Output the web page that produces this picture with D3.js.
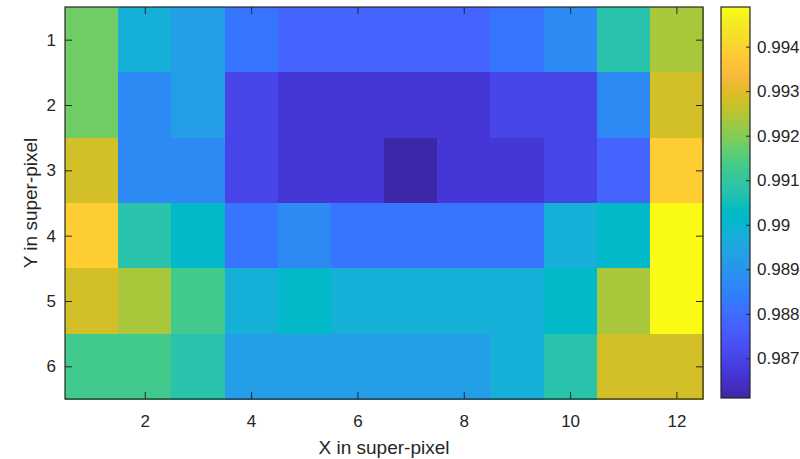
<!DOCTYPE html>
<html>
<head>
<meta charset="utf-8">
<script src="https://cdn.jsdelivr.net/npm/d3@7"></script>
<style>
  html, body { margin: 0; padding: 0; background: #fff; }
  svg { display: block; font-family: "Liberation Sans", Arial, sans-serif; }
</style>
</head>
<body>
<svg id="chart" width="800" height="459"></svg>
<script>
// Super-pixel grid: 6 rows (Y) x 12 columns (X)
const xCategories = [1, 2, 3, 4, 5, 6, 7, 8, 9, 10, 11, 12];
const yCategories = [1, 2, 3, 4, 5, 6];

const row1 = [0.99180, 0.98981, 0.98925, 0.98820, 0.98778, 0.98778, 0.98778, 0.98778, 0.98820, 0.98871, 0.99078, 0.99236];
const row2 = [0.99180, 0.98871, 0.98925, 0.98702, 0.98667, 0.98667, 0.98667, 0.98667, 0.98702, 0.98702, 0.98871, 0.99282];
const row3 = [0.99282, 0.98871, 0.98871, 0.98702, 0.98667, 0.98667, 0.98611, 0.98667, 0.98667, 0.98702, 0.98778, 0.99387];
const row4 = [0.99387, 0.99078, 0.99020, 0.98820, 0.98871, 0.98820, 0.98820, 0.98820, 0.98820, 0.98981, 0.99020, 0.99489];
const row5 = [0.99282, 0.99236, 0.99130, 0.98981, 0.99020, 0.98981, 0.98981, 0.98981, 0.98981, 0.99020, 0.99236, 0.99489];
const row6 = [0.99130, 0.99130, 0.99078, 0.98925, 0.98925, 0.98925, 0.98925, 0.98925, 0.98981, 0.99078, 0.99282, 0.99282];
const rows = [row1, row2, row3, row4, row5, row6];

const xTicks = [2, 4, 6, 8, 10, 12];
const yTicks = [1, 2, 3, 4, 5, 6];
const colorTicks = [0.987, 0.988, 0.989, 0.990, 0.991, 0.992, 0.993, 0.994];

// Parula colormap anchor colours
const parula = [
  [0.2422,0.1504,0.6603],[0.2504,0.1650,0.7076],[0.2578,0.1818,0.7511],[0.2647,0.1978,0.7952],
  [0.2706,0.2147,0.8364],[0.2751,0.2342,0.8710],[0.2783,0.2559,0.8991],[0.2803,0.2782,0.9221],
  [0.2813,0.3006,0.9414],[0.2810,0.3228,0.9579],[0.2795,0.3447,0.9717],[0.2760,0.3667,0.9829],
  [0.2699,0.3892,0.9906],[0.2602,0.4123,0.9952],[0.2440,0.4358,0.9988],[0.2206,0.4603,0.9973],
  [0.1963,0.4847,0.9892],[0.1834,0.5074,0.9798],[0.1786,0.5289,0.9682],[0.1764,0.5499,0.9520],
  [0.1687,0.5703,0.9359],[0.1540,0.5902,0.9218],[0.1460,0.6091,0.9079],[0.1380,0.6276,0.8973],
  [0.1248,0.6459,0.8883],[0.1113,0.6635,0.8763],[0.0952,0.6798,0.8598],[0.0689,0.6948,0.8394],
  [0.0297,0.7082,0.8163],[0.0036,0.7203,0.7917],[0.0067,0.7312,0.7660],[0.0433,0.7411,0.7394],
  [0.0964,0.7500,0.7120],[0.1408,0.7584,0.6842],[0.1717,0.7670,0.6554],[0.1938,0.7758,0.6251],
  [0.2161,0.7843,0.5923],[0.2470,0.7918,0.5567],[0.2906,0.7973,0.5188],[0.3406,0.8008,0.4789],
  [0.3909,0.8029,0.4354],[0.4456,0.8024,0.3909],[0.5044,0.7993,0.3480],[0.5616,0.7942,0.3045],
  [0.6174,0.7876,0.2612],[0.6720,0.7793,0.2227],[0.7242,0.7698,0.1910],[0.7738,0.7598,0.1646],
  [0.8203,0.7498,0.1535],[0.8634,0.7406,0.1596],[0.9035,0.7330,0.1774],[0.9393,0.7288,0.2100],
  [0.9728,0.7298,0.2394],[0.9956,0.7434,0.2371],[0.9970,0.7659,0.2199],[0.9952,0.7893,0.2028],
  [0.9892,0.8136,0.1885],[0.9786,0.8386,0.1766],[0.9676,0.8639,0.1643],[0.9610,0.8890,0.1537],
  [0.9597,0.9135,0.1423],[0.9628,0.9373,0.1265],[0.9691,0.9606,0.1064],[0.9769,0.9839,0.0805]
].map(c => d3.rgb(c[0] * 255, c[1] * 255, c[2] * 255).formatHex());

const interpParula = d3.piecewise(d3.interpolateRgb, parula);

const ink = "#262626";
const svg = d3.select("#chart");

const plot = { left: 65, right: 703, top: 7, bottom: 399 };
const x = d3.scaleLinear().domain([0.5, 12.5]).range([plot.left, plot.right]);
const y = d3.scaleLinear().domain([0.5, 6.5]).range([plot.top, plot.bottom]);

const allValues = rows.flat();
const cMin = d3.min(allValues), cMax = d3.max(allValues);
const color = d3.scaleSequential(interpParula).domain([cMin, cMax]);

// Cells
const cells = [];
rows.forEach((r, i) => r.forEach((v, j) => cells.push({ xi: xCategories[j], yi: yCategories[i], v })));

svg.append("g")
  .selectAll("rect")
  .data(cells)
  .join("rect")
  .attr("x", d => x(d.xi - 0.5))
  .attr("y", d => y(d.yi - 0.5))
  .attr("width", d => x(d.xi + 0.5) - x(d.xi - 0.5) + 0.5)
  .attr("height", d => y(d.yi + 0.5) - y(d.yi - 0.5) + 0.5)
  .attr("fill", d => color(d.v))
  .attr("shape-rendering", "crispEdges");

// Axes (ticks point inward, drawn on all four sides)
const tickLen = 7;
const fontSize = 17;

function styleAxis(g) {
  g.select(".domain").remove();
  g.selectAll("line").attr("stroke", ink).attr("stroke-width", 1);
  g.selectAll("text").attr("fill", ink).attr("font-size", fontSize).attr("font-family", "Liberation Sans, Arial, sans-serif");
}

svg.append("g")
  .attr("transform", `translate(0,${plot.bottom})`)
  .call(d3.axisBottom(x).tickValues(xTicks).tickSizeInner(-tickLen).tickSizeOuter(0).tickPadding(16).tickFormat(d3.format("d")))
  .call(styleAxis);

svg.append("g")
  .attr("transform", `translate(0,${plot.top})`)
  .call(d3.axisTop(x).tickValues(xTicks).tickSizeInner(-tickLen).tickSizeOuter(0).tickFormat(""))
  .call(styleAxis);

svg.append("g")
  .attr("transform", `translate(${plot.left},0)`)
  .call(d3.axisLeft(y).tickValues(yTicks).tickSizeInner(-tickLen).tickSizeOuter(0).tickPadding(9).tickFormat(d3.format("d")))
  .call(styleAxis);

svg.append("g")
  .attr("transform", `translate(${plot.right},0)`)
  .call(d3.axisRight(y).tickValues(yTicks).tickSizeInner(-tickLen).tickSizeOuter(0).tickFormat(""))
  .call(styleAxis);

// Plot frame
svg.append("rect")
  .attr("x", plot.left).attr("y", plot.top)
  .attr("width", plot.right - plot.left).attr("height", plot.bottom - plot.top)
  .attr("fill", "none").attr("stroke", ink).attr("stroke-width", 1.2);

// Axis titles
svg.append("text")
  .attr("x", (plot.left + plot.right) / 2).attr("y", 454)
  .attr("text-anchor", "middle").attr("fill", ink).attr("font-size", 19)
  .text("X in super-pixel");

svg.append("text")
  .attr("transform", `translate(37,${(plot.top + plot.bottom) / 2}) rotate(-90)`)
  .attr("text-anchor", "middle").attr("fill", ink).attr("font-size", 19)
  .text("Y in super-pixel");

// Colour bar
const cb = { left: 721, right: 750, top: 7, bottom: 398 };
const cy = d3.scaleLinear().domain([cMin, cMax]).range([cb.bottom, cb.top]);

const defs = svg.append("defs");
const grad = defs.append("linearGradient").attr("id", "cbar")
  .attr("x1", 0).attr("y1", 1).attr("x2", 0).attr("y2", 0);
d3.range(0, 1.0001, 1 / 63).forEach(t => {
  grad.append("stop").attr("offset", t).attr("stop-color", interpParula(t));
});

svg.append("rect")
  .attr("x", cb.left).attr("y", cb.top)
  .attr("width", cb.right - cb.left).attr("height", cb.bottom - cb.top)
  .attr("fill", "url(#cbar)");

svg.append("g")
  .attr("transform", `translate(${cb.right},0)`)
  .call(d3.axisRight(cy).tickValues(colorTicks).tickSizeInner(-4).tickSizeOuter(0).tickPadding(7)
    .tickFormat(d => String(+d.toFixed(3))))
  .call(styleAxis);

svg.append("rect")
  .attr("x", cb.left).attr("y", cb.top)
  .attr("width", cb.right - cb.left).attr("height", cb.bottom - cb.top)
  .attr("fill", "none").attr("stroke", ink).attr("stroke-width", 1.2);
</script>
</body>
</html>
